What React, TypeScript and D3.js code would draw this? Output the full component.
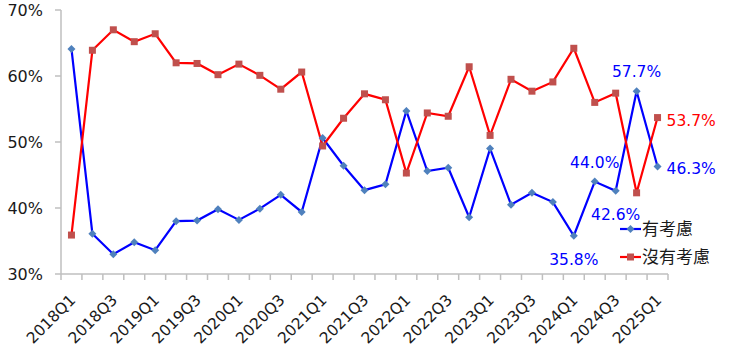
import React from "react";
import * as d3 from "d3";

const categories: string[] = [
  "2018Q1","2018Q2","2018Q3","2018Q4",
  "2019Q1","2019Q2","2019Q3","2019Q4",
  "2020Q1","2020Q2","2020Q3","2020Q4",
  "2021Q1","2021Q2","2021Q3","2021Q4",
  "2022Q1","2022Q2","2022Q3","2022Q4",
  "2023Q1","2023Q2","2023Q3","2023Q4",
  "2024Q1","2024Q2","2024Q3","2024Q4",
  "2025Q1",
];

const considered: number[] = [
  64.1, 36.1, 33.0, 34.8, 33.6, 38.0, 38.1, 39.8, 38.2, 39.9,
  42.0, 39.4, 50.6, 46.4, 42.7, 43.6, 54.7, 45.6, 46.1, 38.6,
  49.0, 40.5, 42.3, 40.9, 35.8, 44.0, 42.6, 57.7, 46.3,
];

const notConsidered: number[] = [
  35.9, 63.9, 67.0, 65.2, 66.4, 62.0, 61.9, 60.2, 61.8, 60.1,
  58.0, 60.6, 49.4, 53.6, 57.3, 56.4, 45.3, 54.4, 53.9, 61.4,
  51.0, 59.5, 57.7, 59.1, 64.2, 56.0, 57.4, 42.3, 53.7,
];

const yTicks: number[] = [30, 40, 50, 60, 70];
const seriesNames: string[] = ["有考慮", "沒有考慮"];

// labelled points: [series, index, position]
const annotations: { s: number; i: number; pos: string }[] = [
  { s: 0, i: 24, pos: "below" },
  { s: 0, i: 25, pos: "above" },
  { s: 0, i: 26, pos: "below" },
  { s: 0, i: 27, pos: "above" },
  { s: 0, i: 28, pos: "right" },
  { s: 1, i: 28, pos: "right" },
];

const W = 750;
const H = 359;
const left = 61;
const right = 668;
const top = 10;
const bottom = 274;

const font = "'DejaVu Sans', sans-serif";
const cjk = "'Noto Sans CJK TC', 'Noto Sans CJK SC', sans-serif";

export default function App() {
  const x = d3.scaleBand<string>().domain(categories).range([left, right]).padding(0);
  const y = d3.scaleLinear().domain([30, 70]).range([bottom, top]);
  const cx = (i: number) => (x(categories[i]) as number) + x.bandwidth() / 2;

  const line = d3
    .line<number>()
    .x((_, i) => cx(i))
    .y((d) => y(d));

  const lineColors = ["#0000FF", "#FF0000"];
  const markColors = ["#4F81BD", "#C0504D"];
  const series = [considered, notConsidered];

  const diamond = (px: number, py: number, r = 4) =>
    `M${px},${py - r}L${px + r},${py}L${px},${py + r}L${px - r},${py}Z`;

  const tickXs = categories.map((c) => x(c) as number).concat([right]);

  return (
    <svg
      width={W}
      height={H}
      style={{ position: "absolute", left: 0, top: 0, background: "#fff" }}
    >
      {/* y axis */}
      <line x1={left} x2={left} y1={top} y2={bottom} stroke="#BFBFBF" strokeWidth={1.5} />
      {yTicks.map((t) => (
        <g key={t}>
          <line x1={left - 6} x2={left} y1={y(t)} y2={y(t)} stroke="#BFBFBF" strokeWidth={1.5} />
          <text
            x={43}
            y={y(t)}
            dy="0.36em"
            textAnchor="end"
            fontFamily={font}
            fontSize={16}
            fill="#1a1a1a"
          >
            {t}%
          </text>
        </g>
      ))}
      {/* x axis */}
      <line x1={left} x2={right} y1={bottom} y2={bottom} stroke="#BFBFBF" strokeWidth={1.5} />
      {tickXs.map((tx, i) => (
        <line key={i} x1={tx} x2={tx} y1={bottom} y2={bottom + 6} stroke="#BFBFBF" strokeWidth={1.5} />
      ))}
      {categories.map((c, i) =>
        i % 2 === 0 ? (
          <text
            key={c}
            transform={`translate(${cx(i) + 5},${bottom + 27}) rotate(-45)`}
            textAnchor="end"
            fontFamily={font}
            fontSize={15.5}
            fill="#1a1a1a"
          >
            {c}
          </text>
        ) : null
      )}

      {/* lines */}
      {series.map((s, k) => (
        <path key={k} d={line(s) || ""} fill="none" stroke={lineColors[k]} strokeWidth={2.2} />
      ))}
      {/* markers */}
      {series[1].map((v, i) => (
        <rect key={"r" + i} x={cx(i) - 3.5} y={y(v) - 3.5} width={7} height={7} fill={markColors[1]} />
      ))}
      {series[0].map((v, i) => (
        <path key={"b" + i} d={diamond(cx(i), y(v))} fill={markColors[0]} />
      ))}

      {/* annotations */}
      {annotations.map((a, k) => {
        const v = series[a.s][a.i];
        const px = cx(a.i);
        const py = y(v);
        let tx = px;
        let ty = py;
        let anchor = "middle";
        if (a.pos === "above") ty = py - 14;
        else if (a.pos === "below") ty = py + 29;
        else {
          tx = px + 9;
          ty = py + 8;
          anchor = "start";
        }
        return (
          <text
            key={k}
            x={tx}
            y={ty}
            textAnchor={anchor}
            fontFamily={font}
            fontSize={15.5}
            fill={lineColors[a.s]}
          >
            {v.toFixed(1)}%
          </text>
        );
      })}

      {/* legend */}
      {seriesNames.map((n, k) => {
        const ly = 229 + k * 28;
        return (
          <g key={n}>
            <line x1={620} x2={641} y1={ly} y2={ly} stroke={lineColors[k]} strokeWidth={2.2} />
            {k === 0 ? (
              <path d={diamond(630.5, ly)} fill={markColors[0]} />
            ) : (
              <rect x={627} y={ly - 3.5} width={7} height={7} fill={markColors[1]} />
            )}
            <text x={642} y={ly} dy="0.36em" fontFamily={cjk} fontSize={17} fill="#1a1a1a">
              {n}
            </text>
          </g>
        );
      })}
    </svg>
  );
}
